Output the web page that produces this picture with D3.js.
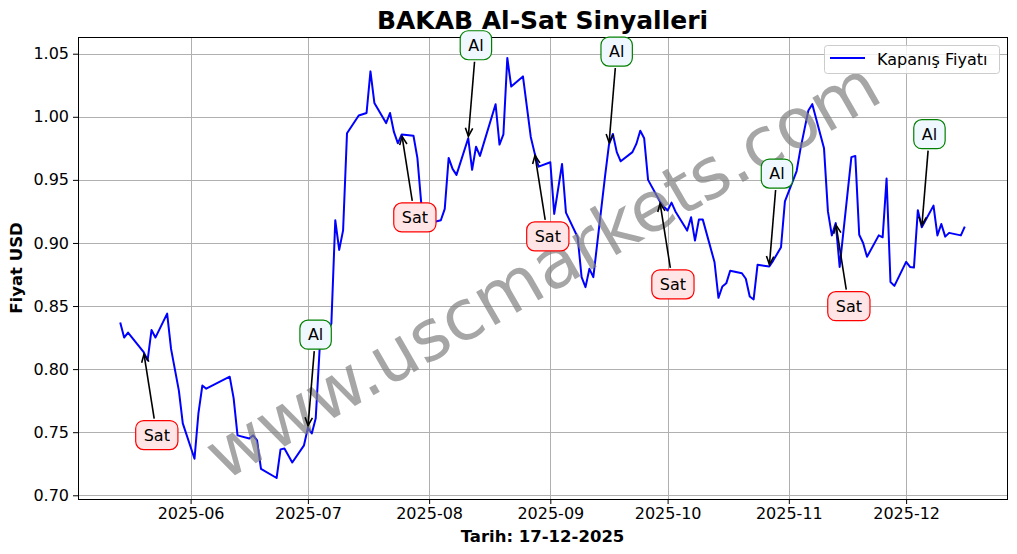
<!DOCTYPE html>
<html>
<head>
<meta charset="utf-8">
<script src="https://cdn.jsdelivr.net/npm/d3@7"></script>
<style>
  html, body { margin: 0; padding: 0; background: #fff; }
  svg { display: block; font-family: "DejaVu Sans", sans-serif; }
</style>
</head>
<body>
<svg id="chart" width="1017" height="554"></svg>
<script>
// ---- data ----
const dates = [
  "2025-05-14","2025-05-15","2025-05-16","2025-05-20","2025-05-21","2025-05-22","2025-05-23",
  "2025-05-26","2025-05-27","2025-05-29","2025-05-30",
  "2025-06-02","2025-06-03","2025-06-04","2025-06-05","2025-06-11","2025-06-12","2025-06-13",
  "2025-06-16","2025-06-17","2025-06-18","2025-06-19","2025-06-23","2025-06-24","2025-06-25",
  "2025-06-27","2025-06-30",
  "2025-07-01","2025-07-02","2025-07-03","2025-07-04","2025-07-07","2025-07-08","2025-07-09",
  "2025-07-10","2025-07-11","2025-07-14","2025-07-16","2025-07-17","2025-07-18","2025-07-21",
  "2025-07-22","2025-07-23","2025-07-24","2025-07-25","2025-07-28","2025-07-29","2025-07-30",
  "2025-07-31",
  "2025-08-01","2025-08-04","2025-08-05","2025-08-06","2025-08-07","2025-08-08","2025-08-11",
  "2025-08-12","2025-08-13","2025-08-14","2025-08-18","2025-08-19","2025-08-20","2025-08-21",
  "2025-08-22","2025-08-25","2025-08-27","2025-08-28","2025-08-29",
  "2025-09-01","2025-09-02","2025-09-04","2025-09-05","2025-09-08","2025-09-09","2025-09-10",
  "2025-09-11","2025-09-12","2025-09-15","2025-09-16","2025-09-17","2025-09-18","2025-09-19",
  "2025-09-22","2025-09-23","2025-09-24","2025-09-25","2025-09-26","2025-09-29","2025-09-30",
  "2025-10-01","2025-10-02","2025-10-03","2025-10-06","2025-10-07","2025-10-08","2025-10-09",
  "2025-10-10","2025-10-13","2025-10-14","2025-10-15","2025-10-16","2025-10-17","2025-10-20",
  "2025-10-21","2025-10-22","2025-10-23","2025-10-24","2025-10-27","2025-10-28","2025-10-30",
  "2025-10-31",
  "2025-11-03","2025-11-04","2025-11-05","2025-11-06","2025-11-07","2025-11-10","2025-11-11",
  "2025-11-12","2025-11-13","2025-11-14","2025-11-17","2025-11-18","2025-11-19","2025-11-20",
  "2025-11-21","2025-11-24","2025-11-25","2025-11-26","2025-11-27","2025-11-28",
  "2025-12-01","2025-12-02","2025-12-03","2025-12-04","2025-12-05","2025-12-08","2025-12-09",
  "2025-12-10","2025-12-11","2025-12-12","2025-12-15","2025-12-16"
];
const closePrices = [
  0.837,0.825,0.829,0.8135,0.807,0.831,0.825,
  0.844,0.816,0.783,0.757,
  0.729,0.765,0.787,0.7845,0.794,0.777,0.7475,
  0.745,0.7475,0.7435,0.721,0.7137,0.7364,0.737,
  0.726,0.7396,
  0.7536,0.749,0.761,0.816,0.836,0.918,0.8945,
  0.910,0.987,1.001,1.003,1.036,1.011,0.995,
  1.003,0.988,0.979,0.986,0.985,0.9674,0.931,
  0.918,
  0.9156,0.918,0.927,0.9674,0.9587,0.954,0.983,
  0.958,0.9763,0.969,1.010,0.978,0.986,1.0466,
  1.024,1.032,0.984,0.971,0.9605,
  0.964,0.923,0.9626,0.924,0.9045,0.8729,0.865,
  0.8795,0.8729,0.953,0.978,0.9864,0.972,0.9647,
  0.972,0.9785,0.989,0.983,0.950,0.933,0.929,
  0.9257,0.932,0.925,0.9098,0.9204,0.9019,0.9185,
  0.9185,0.8847,0.8565,0.8655,0.868,0.878,0.876,
  0.8716,0.8576,0.8552,0.8827,0.8813,0.886,0.8966,
  0.933,
  0.957,0.975,0.990,1.005,1.010,0.975,0.925,
  0.906,0.9157,0.881,0.968,0.969,0.9065,0.900,
  0.889,0.906,0.9045,0.951,0.869,0.866,
  0.885,0.881,0.8805,0.926,0.9125,0.9296,0.906,
  0.915,0.905,0.908,0.906,0.913
];
const signalDates = ["2025-05-20","2025-07-01","2025-07-25","2025-08-11","2025-08-28",
                     "2025-09-16","2025-09-29","2025-10-27","2025-11-13","2025-12-05"];
const signalTypes = ["Sat","Al","Sat","Al","Sat","Al","Sat","Al","Sat","Al"];
const yTickValues = [0.70,0.75,0.80,0.85,0.90,0.95,1.00,1.05];
const titleText = "BAKAB Al-Sat Sinyalleri";
const xLabelText = "Tarih: 17-12-2025";
const yLabelText = "Fiyat USD";
const legendLabel = "Kapanış Fiyatı";
const watermarkText = "www.uscmarkets.com";

// ---- setup ----
const W = 1017, H = 554;
const mLeft = 78, mRight = 1007, mTop = 37, mBottom = 499;
const parse = d3.utcParse("%Y-%m-%d");
const series = dates.map((d, i) => ({ date: parse(d), value: closePrices[i] }));

const xExt = d3.extent(series, d => d.date);
const xPad = (xExt[1] - xExt[0]) * 0.05;
const x = d3.scaleUtc()
  .domain([new Date(+xExt[0] - xPad), new Date(+xExt[1] + xPad)])
  .range([mLeft, mRight]);
const yExt = d3.extent(closePrices);
const yPad = (yExt[1] - yExt[0]) * 0.05;
const y = d3.scaleLinear()
  .domain([yExt[0] - yPad, yExt[1] + yPad])
  .range([mBottom, mTop]);

const svg = d3.select("#chart");
svg.append("rect").attr("width", W).attr("height", H).attr("fill", "#fff");

const xTicks = d3.utcMonth.range(d3.utcMonth.ceil(x.domain()[0]), x.domain()[1]);

// grid
const grid = svg.append("g");
grid.selectAll("line.gx").data(xTicks).join("line")
  .attr("x1", d => Math.round(x(d)) + 0.5).attr("x2", d => Math.round(x(d)) + 0.5)
  .attr("y1", mTop).attr("y2", mBottom)
  .attr("stroke", "#b0b0b0").attr("stroke-width", 1);
grid.selectAll("line.gy").data(yTickValues).join("line")
  .attr("y1", d => Math.round(y(d)) + 0.5).attr("y2", d => Math.round(y(d)) + 0.5)
  .attr("x1", mLeft).attr("x2", mRight)
  .attr("stroke", "#b0b0b0").attr("stroke-width", 1);

// axes
const xAxis = d3.axisBottom(x).tickValues(xTicks).tickFormat(d3.utcFormat("%Y-%m"))
  .tickSizeInner(5).tickSizeOuter(0).tickPadding(4);
const gx = svg.append("g").attr("transform", `translate(0,${mBottom})`).call(xAxis);
const yAxis = d3.axisLeft(y).tickValues(yTickValues).tickFormat(d3.format(".2f"))
  .tickSizeInner(5).tickSizeOuter(0).tickPadding(4);
const gy = svg.append("g").attr("transform", `translate(${mLeft},0)`).call(yAxis);
[gx, gy].forEach(g => {
  g.select(".domain").remove();
  g.selectAll("text").attr("font-size", 16).attr("fill", "#000")
    .attr("font-family", "DejaVu Sans, sans-serif");
  g.selectAll("line").attr("stroke", "#000").attr("stroke-width", 1);
});

// line
svg.append("path").datum(series)
  .attr("fill", "none").attr("stroke", "#0000ff").attr("stroke-width", 2)
  .attr("stroke-linejoin", "round")
  .attr("d", d3.line().x(d => x(d.date)).y(d => y(d.value)));

// watermark
const wcx = (mLeft + mRight) / 2, wcy = (mTop + mBottom) / 2 + 2;
svg.append("text")
  .attr("x", wcx).attr("y", wcy)
  .attr("transform", `rotate(-30, ${wcx}, ${wcy})`)
  .attr("text-anchor", "middle").attr("dominant-baseline", "central")
  .attr("font-size", 70).attr("fill", "#808080").attr("fill-opacity", 0.7)
  .text(watermarkText);

// spines
svg.append("rect").attr("x", mLeft + 0.5).attr("y", mTop + 0.5)
  .attr("width", mRight - mLeft).attr("height", mBottom - mTop)
  .attr("fill", "none").attr("stroke", "#000").attr("stroke-width", 1);

// annotations
const fmtKey = d3.utcFormat("%Y-%m-%d");
const lookup = new Map(series.map(d => [fmtKey(d.date), d]));
const ann = svg.append("g");
signalDates.forEach((sd, i) => {
  const p = lookup.get(sd);
  const type = signalTypes[i];
  const px = x(p.date), py = y(p.value);
  const g = ann.append("g");
  const t = g.append("text").attr("font-size", 16).attr("fill", "#000").text(type);
  const tw = t.node().getComputedTextLength();
  const cx = px + tw / 2;
  const cy = type === "Sat" ? py + 83 : py - 93;
  const bw = tw + 16, bh = 29;
  const dx = px - cx, dy = py - cy;
  const len = Math.hypot(dx, dy);
  const ux = dx / len, uy = dy / len;
  const tEdge = Math.min(Math.abs((bw / 2) / (ux || 1e-9)), Math.abs((bh / 2) / (uy || 1e-9)));
  const sx = cx + ux * (tEdge + 2), sy = cy + uy * (tEdge + 2);
  const ex = px - ux * 2, ey = py - uy * 2;
  g.append("line").attr("x1", sx).attr("y1", sy).attr("x2", ex).attr("y2", ey)
    .attr("stroke", "#000").attr("stroke-width", 1.6);
  const hl = 9, ang = Math.atan2(uy, ux), spread = 0.42;
  const h1x = ex - hl * Math.cos(ang - spread), h1y = ey - hl * Math.sin(ang - spread);
  const h2x = ex - hl * Math.cos(ang + spread), h2y = ey - hl * Math.sin(ang + spread);
  g.append("path").attr("d", `M${h1x},${h1y}L${ex},${ey}L${h2x},${h2y}`)
    .attr("fill", "none").attr("stroke", "#000").attr("stroke-width", 1.6);
  g.insert("rect", "text")
    .attr("x", cx - bw / 2).attr("y", cy - bh / 2).attr("width", bw).attr("height", bh)
    .attr("rx", 8).attr("ry", 8)
    .attr("fill", type === "Sat" ? "#ffe5e5" : "#f0f8ff")
    .attr("stroke", type === "Sat" ? "#ff0000" : "#008000").attr("stroke-width", 1.2);
  t.attr("x", cx).attr("y", cy + 5.5).attr("text-anchor", "middle");
});

// legend
const lg = svg.append("g");
lg.append("rect").attr("x", 824.5).attr("y", 45.5).attr("width", 175).attr("height", 28)
  .attr("rx", 3).attr("fill", "#fff").attr("fill-opacity", 0.8)
  .attr("stroke", "#cccccc").attr("stroke-width", 1);
lg.append("line").attr("x1", 830).attr("x2", 865).attr("y1", 58).attr("y2", 58)
  .attr("stroke", "#0000ff").attr("stroke-width", 2);
lg.append("text").attr("x", 877).attr("y", 64.5).attr("font-size", 16).text(legendLabel);

// title & labels
svg.append("text").attr("x", (mLeft + mRight) / 2).attr("y", 28.5)
  .attr("text-anchor", "middle").attr("font-size", 25).attr("font-weight", "bold")
  .text(titleText);
svg.append("text").attr("x", (mLeft + mRight) / 2).attr("y", 542)
  .attr("text-anchor", "middle").attr("font-size", 16.5).attr("font-weight", "bold")
  .text(xLabelText);
svg.append("text").attr("transform", `translate(22,${(mTop + mBottom) / 2}) rotate(-90)`)
  .attr("text-anchor", "middle").attr("font-size", 16.5).attr("font-weight", "bold")
  .text(yLabelText);
</script>
</body>
</html>
